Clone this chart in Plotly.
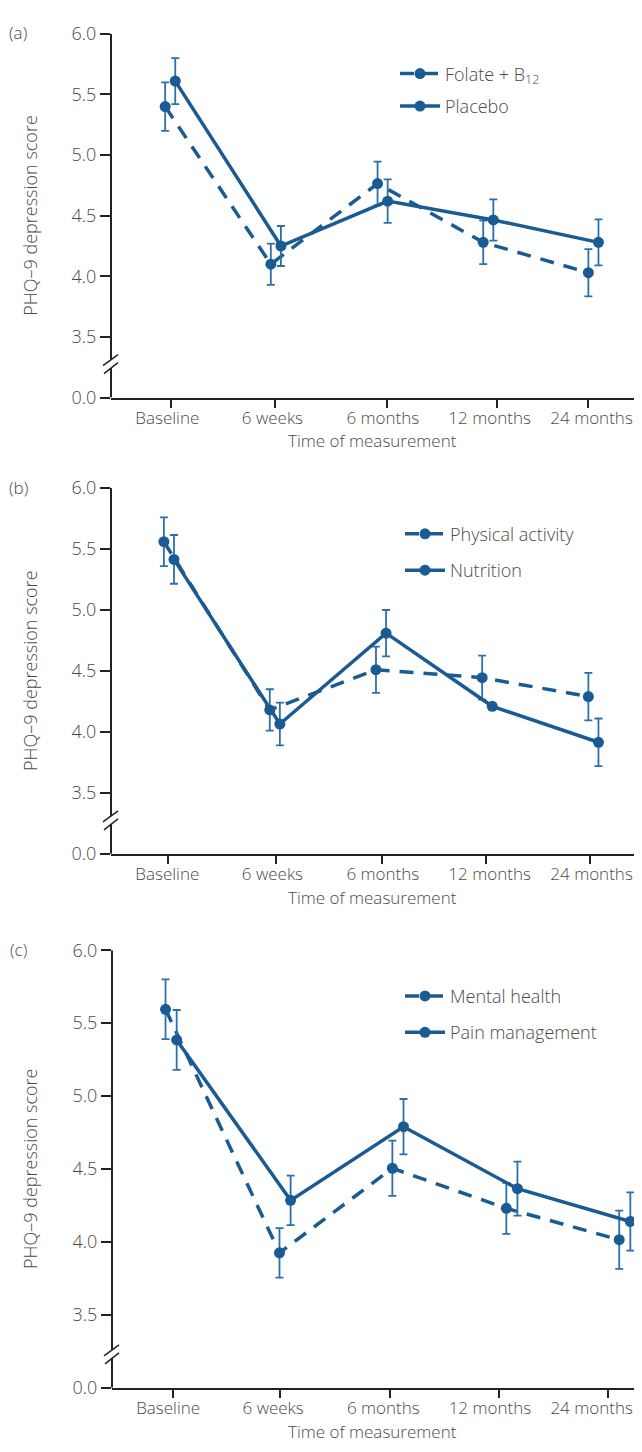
import plotly.graph_objects as go

# ---------------- data ----------------
periods = ["Baseline", "6 weeks", "6 months", "12 months", "24 months"]
y_tickvals = [3.0, 3.5, 4.0, 4.5, 5.0, 5.5, 6.0]
y_ticktext = ["0.0", "3.5", "4.0", "4.5", "5.0", "5.5", "6.0"]

folate_mean = [5.40, 4.10, 4.765, 4.28, 4.03]
folate_err = [0.20, 0.17, 0.18, 0.18, 0.195]
placebo_mean = [5.61, 4.25, 4.62, 4.465, 4.28]
placebo_err = [0.19, 0.165, 0.18, 0.17, 0.19]

phys_mean = [5.56, 4.18, 4.51, 4.445, 4.29]
phys_err = [0.20, 0.17, 0.19, 0.18, 0.195]
nutr_mean = [5.415, 4.065, 4.81, 4.21, 3.915]
nutr_err = [0.20, 0.175, 0.19, 0.0, 0.195]

mental_mean = [5.595, 3.925, 4.505, 4.23, 4.015]
mental_err = [0.205, 0.17, 0.19, 0.175, 0.20]
pain_mean = [5.385, 4.285, 4.79, 4.365, 4.14]
pain_err = [0.205, 0.17, 0.19, 0.185, 0.20]

# ---------------- layout constants ----------------
# the page body has an 8px margin; keep the figure inside the window
OFF = 8
W, H = 642 - 2 * OFF, 1452 - 2 * OFF
LINE = "#1b5b93"
ERR = "#2c6fad"
AXC = "#222222"
TXT = "#4a4a4a"
FONT = "Open Sans, Lato, Liberation Sans, sans-serif"
RIGHT = OFF + W            # right edge of the figure in window pixels


def px(x):  # window pixel -> paper x
    return (x - OFF) / W


def py(y):  # window pixel -> paper y
    return 1 - (y - OFF) / H


label_pos = [0.106, 0.304, 0.512, 0.713, 0.905]

panels = [
    dict(label="(a)", top=21, bottom=391, xl=111,
         slots=[0.102, 0.301, 0.502, 0.701, 0.899], off=0.019,
         ticks=[0.1135, 0.309, 0.519, 0.726, 0.899],
         s1=("Folate + B<sub>12</sub>", folate_mean, folate_err),
         s2=("Placebo", placebo_mean, placebo_err),
         leg=(395, 43), gap=6),
    dict(label="(b)", top=483, bottom=855, xl=111,
         slots=[0.0996, 0.299, 0.499, 0.699, 0.899], off=0.019,
         ticks=[0.108, 0.310, 0.511, 0.707, 0.903],
         s1=("Physical activity", phys_mean, phys_err),
         s2=("Nutrition", nutr_mean, nutr_err),
         leg=(400, 511), gap=10),
    dict(label="(c)", top=953, bottom=1398, xl=112,
         slots=[0.101, 0.316, 0.529, 0.744, 0.957], off=0.021,
         ticks=[0.115, 0.317, 0.5245, 0.730, 0.936],
         s1=("Mental health", mental_mean, mental_err),
         s2=("Pain management", pain_mean, pain_err),
         leg=(400, 981), gap=10),
]

tickfont = dict(size=17, color=TXT, family=FONT, weight=300)

fig = go.Figure()
shapes = []
annotations = []
layout_axes = {}

for i, p in enumerate(panels):
    n = "" if i == 0 else str(i + 1)
    xa, ya = "x" + n, "y" + n
    la = "x" + str(i + 4)  # overlay axis carrying the category labels
    leg = "legend" + n
    x1 = p["slots"]
    x2 = [v + p["off"] for v in p["slots"]]
    for (name, mean, err), xs, dash, grp in ((p["s1"], x1, "14px,10px", "a"),
                                            (p["s2"], x2, "solid", "b")):
        fig.add_trace(go.Scatter(
            x=xs, y=mean, name=name, mode="lines+markers",
            xaxis=xa, yaxis=ya, legend=leg, legendgroup=f"{i}{grp}",
            line=dict(color=LINE, width=3.5, dash=dash),
            marker=dict(color=LINE, size=11),
            error_y=dict(type="data", array=err, visible=True, color=ERR,
                         thickness=1.8, width=4),
            cliponaxis=False,
        ))
    # empty trace so that the label axis gets drawn
    fig.add_trace(go.Scatter(x=[], y=[], xaxis=la, yaxis=ya, showlegend=False,
                             hoverinfo="skip", mode="markers"))
    ydom = [py(p["bottom"]), py(p["top"])]
    xdom = [px(p["xl"]), 1.0]
    xr = [0, (RIGHT - p["xl"]) / (642 - p["xl"])]
    layout_axes["xaxis" + n] = dict(
        domain=xdom, range=xr, anchor=ya, showgrid=False, zeroline=False,
        showline=True, linecolor=AXC, linewidth=2,
        tickmode="array", tickvals=p["ticks"], ticktext=[""] * 5,
        ticks="outside", ticklen=8, tickwidth=1.5, tickcolor=AXC,
    )
    layout_axes["xaxis" + str(i + 4)] = dict(
        domain=xdom, range=xr, anchor=ya, overlaying=xa, side="bottom",
        showgrid=False, zeroline=False, showline=False,
        tickmode="array", tickvals=label_pos, ticktext=periods,
        ticks="outside", ticklen=5, tickcolor="rgba(0,0,0,0)",
        tickfont=tickfont,
    )
    layout_axes["yaxis" + n] = dict(
        domain=ydom, range=[3.0, 6.0], anchor=xa, showgrid=False, zeroline=False,
        showline=False,
        tickmode="array", tickvals=y_tickvals, ticktext=y_ticktext,
        ticks="outside", ticklen=10, tickwidth=1.5, tickcolor=AXC,
        tickfont=dict(size=18, color=TXT, family=FONT, weight=300),
    )
    layout_axes[leg] = dict(
        x=px(p["leg"][0]), y=py(p["leg"][1]), xanchor="left", yanchor="top",
        bgcolor="rgba(0,0,0,0)", borderwidth=0, tracegroupgap=p["gap"],
        font=dict(size=18, color=TXT, family=FONT, weight=300),
        itemwidth=40,
    )
    # y-axis line with a break near the bottom
    hpx = p["bottom"] - p["top"]
    vpp = 3.0 / hpx
    bc = 3.0 + 34 * vpp
    shapes.append(dict(type="line", xref=xa + " domain", yref=ya, x0=0, x1=0,
                       y0=bc + 4.4 * vpp, y1=6.0, line=dict(color=AXC, width=2)))
    shapes.append(dict(type="line", xref=xa + " domain", yref=ya, x0=0, x1=0,
                       y0=3.0, y1=bc - 4.0 * vpp, line=dict(color=AXC, width=2)))
    for (ax0, ay0, ax1, ay1) in ((-8, -1.5, 7, 9.5), (-7, -9.5, 7, 1.5)):
        shapes.append(dict(type="line", xref=xa + " domain", yref=ya,
                           xsizemode="pixel", xanchor=0, x0=ax0, x1=ax1,
                           ysizemode="pixel", yanchor=bc, y0=ay0, y1=ay1,
                           line=dict(color=AXC, width=1.5)))
    # titles & panel label
    annotations.append(dict(text="Time of measurement", xref="paper", yref="paper",
                            x=px(372), y=py(p["bottom"] + 44),
                            xanchor="center", yanchor="middle", showarrow=False,
                            font=dict(size=17, color=TXT, family=FONT, weight=300)))
    annotations.append(dict(text="PHQ–9 depression score", xref="paper", yref="paper",
                            x=px(30), y=py((p["top"] + p["bottom"]) / 2),
                            xanchor="center", yanchor="middle", textangle=-90,
                            showarrow=False,
                            font=dict(size=18, color=TXT, family=FONT, weight=300)))
    annotations.append(dict(text=p["label"], xref="paper", yref="paper",
                            x=px(18), y=py(p["top"] - 1),
                            xanchor="center", yanchor="middle", showarrow=False,
                            font=dict(size=17, color=TXT, family=FONT, weight=300)))

fig.update_layout(
    width=W, height=H, margin=dict(l=0, r=0, t=0, b=0),
    paper_bgcolor="white", plot_bgcolor="white",
    showlegend=True, shapes=shapes, annotations=annotations,
    font=dict(family=FONT, color=TXT),
    **layout_axes,
)

fig.write_html("out.html")
